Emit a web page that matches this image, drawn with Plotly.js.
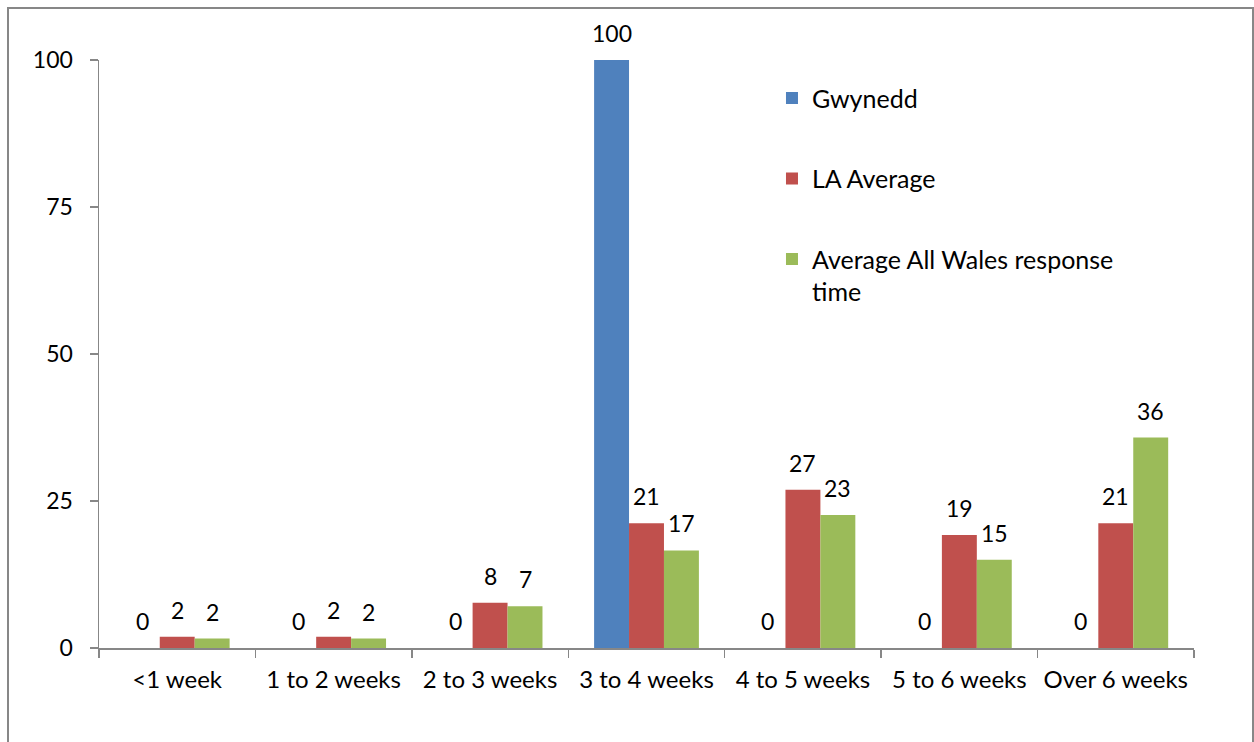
<!DOCTYPE html>
<html>
<head>
<meta charset="utf-8">
<script src="https://cdn.plot.ly/plotly-3.0.1.min.js"></script>
<style>
  html, body { margin: 0; padding: 0; background: #ffffff; }
  #chart { width: 1254px; height: 742px; }
</style>
</head>
<body>
<div id="chart"></div>
<script>
// Response time bands
const categories = ['<1 week', '1 to 2 weeks', '2 to 3 weeks', '3 to 4 weeks', '4 to 5 weeks', '5 to 6 weeks', 'Over 6 weeks'];

// Percentage of responses in each band
const gwynedd = [0, 0, 0, 100, 0, 0, 0];
const laAverage = [1.9, 1.9, 7.7, 21.2, 26.9, 19.2, 21.2];
const allWales = [1.6, 1.6, 7.1, 16.6, 22.6, 15.0, 35.8];

const seriesNames = ['Gwynedd', 'LA Average', 'Average All Wales response<br>time'];
const seriesValues = [gwynedd, laAverage, allWales];
const seriesColors = ['#4F81BD', '#C0504D', '#9BBB59'];

const yTicks = [0, 25, 50, 75, 100];

const FONT = 'Lato, "Open Sans", sans-serif';
const AXIS_GREY = '#878787';
const BAR_GAP = 0.33;

const data = seriesNames.map((name, k) => ({
  type: 'bar',
  name: name,
  x: categories,
  y: seriesValues[k],
  marker: { color: seriesColors[k] },
  legendgroup: name,
  hoverinfo: 'x+y+name'
}));

// Value labels sit a little above each bar, centred on its slot in the group
const barWidth = (1 - BAR_GAP) / seriesValues.length;
const valueLabels = [];
seriesValues.forEach((values, k) => {
  const offset = (k - (seriesValues.length - 1) / 2) * barWidth;
  values.forEach((v, i) => {
    valueLabels.push({
      xref: 'x', yref: 'y',
      x: i + offset,
      y: v,
      text: Math.round(v).toString(),
      showarrow: false,
      xanchor: 'center',
      yanchor: 'middle',
      yshift: 27,
      font: { family: FONT, size: 23, color: '#000000' }
    });
  });
});

const layout = {
  width: 1254,
  height: 742,
  margin: { l: 99, r: 60, t: 60, b: 94, pad: 0 },
  paper_bgcolor: '#ffffff',
  plot_bgcolor: '#ffffff',
  font: { family: FONT, size: 24, color: '#000000' },
  barmode: 'group',
  bargap: BAR_GAP,
  bargroupgap: 0,
  showlegend: true,
  legend: {
    x: 0.6146,
    y: 0.974,
    xanchor: 'left',
    yanchor: 'top',
    bgcolor: 'rgba(0,0,0,0)',
    font: { family: FONT, size: 25, color: '#000000' },
    traceorder: 'grouped',
    tracegroupgap: 45,
    valign: 'top',
    itemwidth: 30
  },
  xaxis: {
    type: 'category',
    showgrid: false,
    showline: true,
    linecolor: AXIS_GREY,
    linewidth: 1.5,
    ticks: 'outside',
    tickson: 'boundaries',
    ticklen: 8,
    tickcolor: AXIS_GREY,
    tickwidth: 1.5,
    tickangle: 0,
    ticklabelstandoff: 10,
    tickfont: { family: FONT, size: 24, color: '#000000' },
    zeroline: false
  },
  yaxis: {
    range: [0, 100],
    tickvals: yTicks,
    ticktext: yTicks.map(String),
    showgrid: false,
    showline: true,
    linecolor: AXIS_GREY,
    linewidth: 1.5,
    ticks: 'outside',
    ticklen: 8,
    tickcolor: AXIS_GREY,
    tickwidth: 1.5,
    ticklabelstandoff: 12,
    tickfont: { family: FONT, size: 23, color: '#000000' },
    zeroline: false,
    fixedrange: true
  },
  annotations: valueLabels,
  shapes: [
    {
      type: 'rect',
      xref: 'paper', yref: 'paper',
      x0: -0.0831, x1: 1.0539,
      y0: -0.17, y1: 1.0884,
      line: { color: AXIS_GREY, width: 2 },
      fillcolor: 'rgba(0,0,0,0)',
      layer: 'below'
    }
  ]
};

Plotly.newPlot('chart', data, layout, { displayModeBar: false, staticPlot: true });
</script>
</body>
</html>
